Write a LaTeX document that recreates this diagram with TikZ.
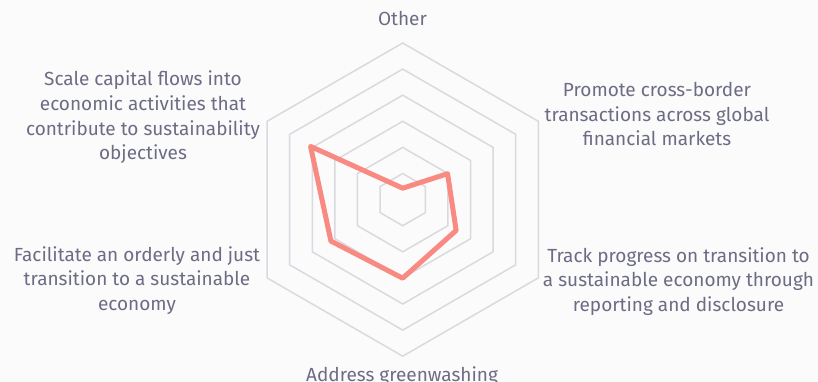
\documentclass[tikz,border=0pt]{standalone}
\usepackage{fontspec}
\setmainfont{Fira Sans}
\usetikzlibrary{calc}
\definecolor{bgc}{HTML}{FBFBFC}
\definecolor{gridc}{HTML}{D9D9E0}
\definecolor{txtc}{HTML}{6C6C84}
\definecolor{datac}{HTML}{F98A82}
\begin{document}
\begin{tikzpicture}[x=1pt,y=-1pt,
  lbl/.style={text=txtc,font=\fontsize{19}{24.5}\selectfont,align=center,anchor=base,inner sep=0pt},
  ring/.style={draw=gridc,line width=1.5pt,line join=miter},
  series/.style={draw=datac,line width=5pt,line join=round,line cap=round}]
\fill[bgc] (0,0) rectangle (818,382);
\useasboundingbox (0,0) rectangle (818,382);
\coordinate (c) at (402.7,199.6);
\foreach \r in {26.1,52.2,78.3,104.4,130.5,156.6}{
  \draw[ring] ($(c)+(90:\r)$) -- ($(c)+(30:\r)$) -- ($(c)+(-30:\r)$) -- ($(c)+(-90:\r)$) -- ($(c)+(-150:\r)$) -- ($(c)+(150:\r)$) -- cycle;
}
% y axis is flipped: angle -90 points up
\coordinate (p1) at ($(c)+(-90:11.4)$);
\coordinate (p2) at ($(c)+(-30:51.8)$);
\coordinate (p3) at ($(c)+(30:61.7)$);
\coordinate (p4) at ($(c)+(90:78.6)$);
\coordinate (p5) at ($(c)+(150:82.9)$);
\coordinate (p6) at ($(c)+(210:106.4)$);
\draw[series] (p1) -- (p2) -- (p3) -- (p4) -- (p5) -- (p6) -- cycle;
\node[lbl] (other) at (402.5,26) {Other};
\node[lbl] (scale) at (143,159.5) {Scale capital flows into\\economic activities that\\contribute to sustainability\\objectives};
\node[lbl] (promote) at (657,146) {Promote cross-border\\transactions across global\\financial markets};
\node[lbl] (track) at (678.5,311) {Track progress on transition to\\a sustainable economy through\\reporting and disclosure};
\node[lbl] (facil) at (137,310) {Facilitate an orderly and just\\transition to a sustainable\\economy};
\node[lbl] (addr) at (402,381) {Address greenwashing};
\end{tikzpicture}
\end{document}
